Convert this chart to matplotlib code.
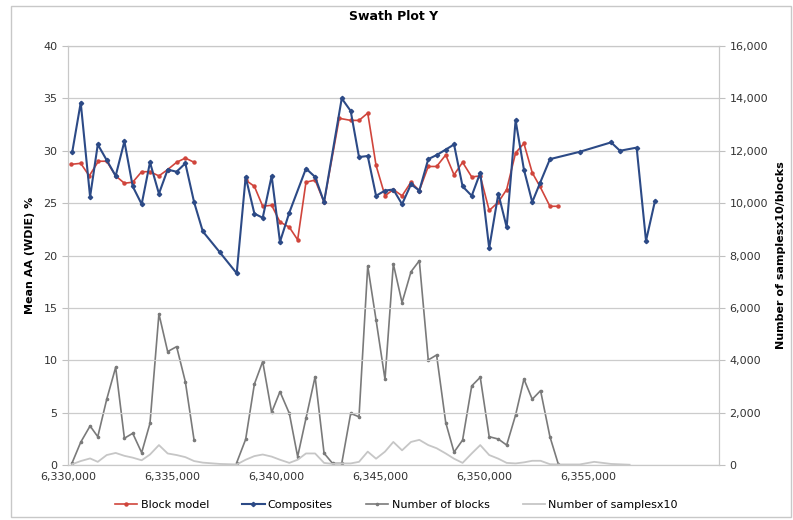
import matplotlib
matplotlib.use('Agg')
import matplotlib.pyplot as plt
import matplotlib.ticker as mt
import numpy as np

nan = np.nan

# Composites (mean AA %)
comp_x = [6330200, 6330610, 6331060, 6331430, 6331860, 6332290, 6332710, 6333110,
          6333540, 6333940, 6334370, 6334790, 6335220, 6335640, 6336060, 6336480,
          6337300, 6338110, 6338540, 6338960, 6339360, 6339790, 6340190, 6340640,
          6341440, 6341880, 6342310, 6343160, 6343590, 6343990, 6344410, 6344810,
          6345240, 6345640, 6346060, 6346490, 6346890, 6347320, 6347730, 6348150,
          6348560, 6348970, 6349410, 6349820, 6350250, 6350690, 6351090, 6351520,
          6351920, 6352320, 6352690, 6353170, 6354600, 6356110, 6356540, 6357340,
          6357790, 6358220]
comp_y = [29.85, 34.6, 25.6, 30.6, 29.1, 27.6, 30.9, 26.6,
          24.9, 28.9, 25.9, 28.2, 28.0, 28.8, 25.1, 22.3,
          20.3, 18.3, 27.5, 24.0, 23.6, 27.6, 21.3, 24.1,
          28.3, 27.5, 25.1, 35.0, 33.8, 29.4, 29.5, 25.7,
          26.2, 26.3, 24.9, 26.8, 26.2, 29.2, 29.6, 30.1,
          30.6, 26.6, 25.7, 27.9, 20.7, 25.9, 22.7, 32.9,
          28.2, 25.1, 26.9, 29.2, 29.9, 30.8, 30.0, 30.3,
          21.4, 25.2]

# Block model (mean AA %)
bm_x = [6330130, 6330610, 6331020, 6331460, 6331860, 6332290, 6332710, 6333110,
        6333540, 6333940, 6334370, 6334790, 6335220, 6335640, 6336060, 6337300,
        6338540, 6338960, 6339360, 6339790, 6340190, 6340640, 6341040, 6341440,
        6341880, 6342310, 6343040, 6343590, 6343990, 6344410, 6344810, 6345240,
        6345640, 6346060, 6346490, 6346890, 6347320, 6347720, 6348160, 6348560,
        6348970, 6349410, 6349820, 6350250, 6350690, 6351090, 6351520, 6351920,
        6352320, 6352690, 6353170, 6353570]
bm_y = [28.7, 28.8, 27.6, 29.0, 29.0, 27.6, 26.9, 27.0,
        28.0, 28.0, 27.6, 28.2, 28.9, 29.3, 28.9, nan,
        27.2, 26.6, 24.7, 24.8, 23.2, 22.7, 21.5, 27.0,
        27.2, 25.1, 33.1, 32.9, 32.9, 33.6, 28.6, 25.7,
        26.3, 25.7, 27.0, 26.2, 28.5, 28.5, 29.6, 27.7,
        28.9, 27.5, 27.6, 24.3, 25.1, 26.3, 29.8, 30.7,
        27.9, 26.6, 24.7, 24.7]

# Number of blocks (right axis)
nb_x = [6330200, 6330610, 6331060, 6331430, 6331860, 6332290, 6332710, 6333110,
        6333540, 6333940, 6334370, 6334790, 6335220, 6335640, 6336060, 6337100,
        6338110, 6338540, 6338960, 6339360, 6339790, 6340190, 6340640, 6341040,
        6341440, 6341880, 6342310, 6342720, 6343160, 6343590, 6343990, 6344410,
        6344810, 6345240, 6345640, 6346060, 6346490, 6346890, 6347320, 6347720,
        6348160, 6348560, 6348970, 6349410, 6349820, 6350250, 6350690, 6351090,
        6351520, 6351920, 6352320, 6352720, 6353170, 6353570]
nb_y = [90, 870, 1490, 1080, 2510, 3730, 1020, 1210,
        470, 1590, 5770, 4330, 4520, 3180, 950, nan,
        90, 980, 3090, 3950, 2010, 2800, 1970, 320,
        1780, 3370, 450, 60, 60, 1970, 1840, 7600,
        5540, 3270, 7680, 6200, 7380, 7800, 4010, 4200,
        1620, 490, 950, 3020, 3350, 1080, 990, 760,
        1910, 3280, 2510, 2840, 1080, 40]

# Number of samples x10 (right axis)
ns_x = [6330200, 6330610, 6331060, 6331430, 6331860, 6332290, 6332710, 6333110,
        6333540, 6333940, 6334370, 6334790, 6335220, 6335640, 6336060, 6336480,
        6337300, 6338110, 6338540, 6338960, 6339360, 6339790, 6340190, 6340640,
        6341040, 6341440, 6341880, 6342310, 6342720, 6343160, 6343590, 6343990,
        6344410, 6344810, 6345240, 6345640, 6346060, 6346490, 6346890, 6347320,
        6347720, 6348160, 6348560, 6348970, 6349410, 6349820, 6350250, 6350690,
        6351090, 6351520, 6351920, 6352320, 6352720, 6353170, 6353570, 6354600,
        6355300, 6356110, 6357000]
ns_y = [30, 150, 250, 120, 380, 460, 350, 280,
        180, 400, 760, 440, 380, 300, 150, 90,
        40, 20, 200, 340, 400, 320, 200, 80,
        200, 440, 440, 80, 40, 60, 60, 120,
        510, 240, 510, 880, 560, 880, 960, 760,
        640, 440, 240, 80, 440, 760, 380, 240,
        80, 60, 100, 160, 160, 30, 20, 20,
        120, 40, 10]

fig = plt.figure(figsize=(7.93, 5.20), dpi=100)
fig.patches.append(plt.Rectangle((0.014, 0.006), 0.984, 0.982, transform=fig.transFigure,
                                 fill=False, edgecolor='#c8c8c8', linewidth=1))
ax = fig.add_axes([0.0858, 0.1058, 0.8209, 0.8057])
ax2 = ax.twinx()

ax.set_xlim(6330000, 6361300)
ax.set_ylim(0, 40)
ax2.set_ylim(0, 16000)
ax.set_yticks(np.arange(0, 41, 5))
ax2.set_yticks(np.arange(0, 16001, 2000))
ax.set_xticks(np.arange(6330000, 6355001, 5000))
ax.xaxis.set_major_formatter(mt.FuncFormatter(lambda v, p: f'{int(v):,}'))
ax2.yaxis.set_major_formatter(mt.FuncFormatter(lambda v, p: f'{int(v):,}'))
ax.yaxis.grid(True, color='#cccccc', linewidth=0.9)
ax.set_axisbelow(True)

for a in (ax, ax2):
    for s in a.spines.values():
        s.set_color('#c8c8c8')
    a.tick_params(colors='#333333', labelsize=8, length=4, width=0.8)
    a.tick_params(axis='both', color='#c0c0c0')
ax.tick_params(axis='x', length=0, pad=5)

l3, = ax2.plot(nb_x, nb_y, color='#7a7a7a', linewidth=1.2, marker='o', markersize=1.6,
               label='Number of blocks')
l4, = ax2.plot(ns_x, ns_y, color='#c6c6c6', linewidth=1.3, label='Number of samplesx10')
ax.set_zorder(ax2.get_zorder() + 1)
ax.patch.set_visible(False)
l1, = ax.plot(bm_x, bm_y, color='#d0453c', linewidth=1.2, marker='o', markersize=2.2,
              label='Block model')
l2, = ax.plot(comp_x, comp_y, color='#2c4a86', linewidth=1.5, marker='D', markersize=2.2,
              label='Composites')

ax.set_title('Swath Plot Y', fontsize=9, fontweight='bold', pad=19)
ax.set_ylabel('Mean AA (WDIE) %', fontsize=8, fontweight='bold', labelpad=6)
ax2.set_ylabel('Number of samplesx10/blocks', fontsize=8, fontweight='bold', labelpad=6)

fig.legend([l1, l2, l3, l4], ['Block model', 'Composites', 'Number of blocks', 'Number of samplesx10'],
           loc='lower center', bbox_to_anchor=(0.5, 0.0), ncol=4, frameon=False,
           fontsize=8, handlelength=2, columnspacing=3, handletextpad=0.3)

fig.savefig('out.png', dpi=100)
